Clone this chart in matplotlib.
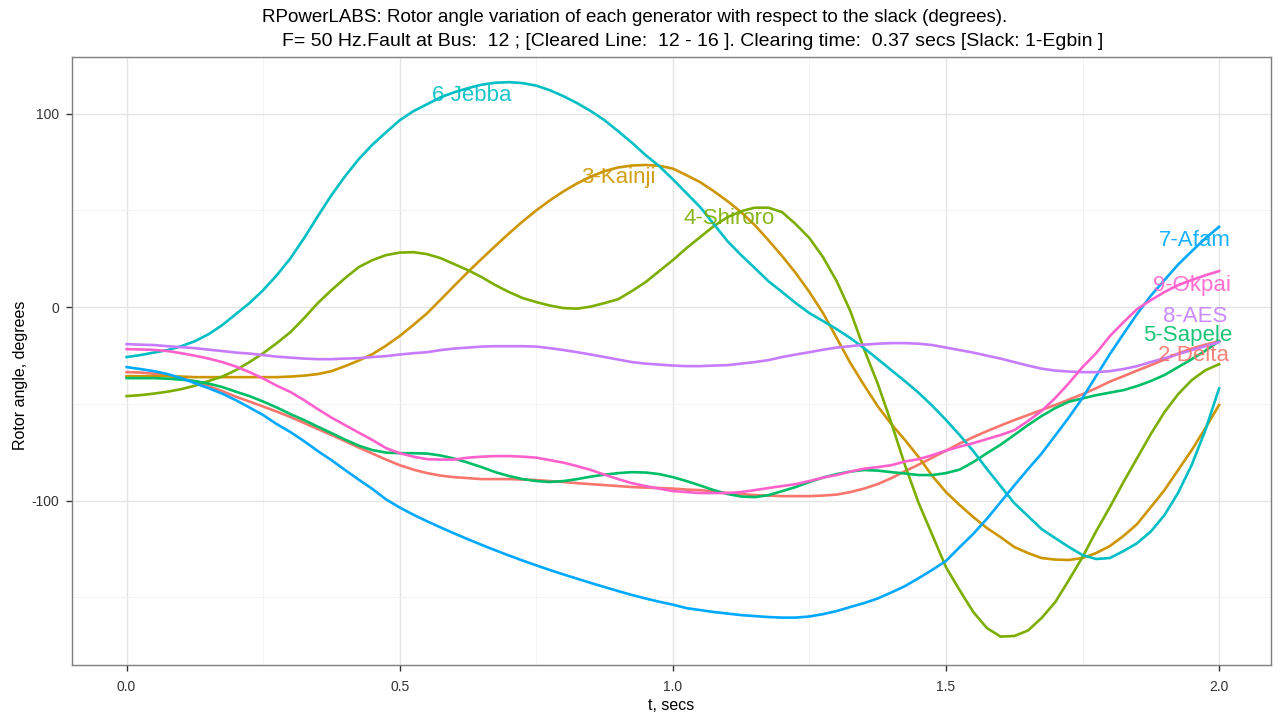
import numpy as np
import matplotlib
matplotlib.use("Agg")
import matplotlib.pyplot as plt
from matplotlib.ticker import MultipleLocator, FormatStrFormatter

plt.rcParams['font.family'] = ['Liberation Sans', 'DejaVu Sans']
plt.rcParams['axes.unicode_minus'] = False

# time axis, secs (one reading every 0.025 s)
t = np.linspace(0, 2, 81)

# rotor angles w.r.t. slack (degrees)
delta = [-33.6, -33.8, -34.4, -35.4, -36.7, -38.5, -40.8, -43.4, -46.3, -48.8,
         -51.4, -54.0, -56.8, -59.9, -63.0, -66.1, -69.3, -72.6, -75.7, -78.8,
         -81.7, -84.0, -85.8, -87.1, -87.9, -88.4, -88.9, -88.9, -88.9, -89.1,
         -89.4, -89.9, -90.4, -91.0, -91.5, -92.0, -92.5, -93.0, -93.3, -93.5,
         -93.8, -94.3, -94.6, -95.3, -96.1, -96.6, -97.2, -97.4, -97.7, -97.7,
         -97.7, -97.4, -96.9, -95.6, -93.8, -91.5, -88.4, -84.8, -81.4, -77.8,
         -74.2, -70.5, -67.2, -64.1, -61.2, -58.4, -55.8, -53.2, -50.6, -47.8,
         -45.0, -41.9, -38.5, -35.7, -32.8, -30.0, -27.1, -24.0, -21.4, -19.4,
         -17.6]
kainji = [-35.7, -35.7, -35.7, -35.7, -35.9, -36.2, -36.2, -36.2, -36.2, -36.2,
          -36.2, -36.2, -35.9, -35.4, -34.6, -33.1, -30.5, -27.6, -24.3, -19.9,
          -14.9, -9.2, -3.2, 3.9, 11.1, 18.2, 25.0, 31.6, 38.1, 44.3,
          50.0, 55.2, 59.9, 64.0, 67.5, 70.3, 72.2, 73.2, 73.5, 73.1,
          71.6, 68.2, 64.6, 59.9, 54.8, 49.1, 42.4, 34.6, 26.4, 17.6,
          7.8, -3.1, -16.0, -28.9, -40.3, -51.2, -60.5, -68.7, -77.5, -87.3,
          -95.6, -102.3, -108.5, -114.2, -118.9, -124.0, -127.1, -129.7, -130.5, -130.7,
          -129.7, -127.1, -123.5, -118.3, -112.1, -103.4, -94.6, -84.2, -73.9, -62.5,
          -50.6]
shiroro = [-46.0, -45.5, -44.7, -43.7, -42.4, -40.6, -38.2, -35.9, -32.6, -28.4,
           -23.8, -18.6, -12.9, -5.7, 2.1, 8.8, 15.0, 20.7, 24.3, 26.9,
           28.2, 28.4, 27.4, 25.3, 22.2, 19.1, 15.5, 11.4, 7.8, 4.7,
           2.6, 0.8, -0.5, -0.8, 0.3, 2.1, 4.1, 8.3, 12.9, 18.6,
           24.3, 30.5, 36.2, 41.9, 46.5, 49.6, 51.4, 51.4, 49.1, 42.9,
           35.7, 25.8, 13.4, -2.1, -21.7, -39.5, -59.9, -81.7, -101.3, -117.8,
           -134.4, -146.3, -157.6, -165.9, -170.3, -170.0, -167.2, -160.7, -152.5, -141.1,
           -129.2, -115.8, -103.4, -90.4, -78.0, -65.6, -54.3, -45.0, -37.7, -32.6,
           -29.5]
sapele = [-36.7, -36.7, -36.7, -37.0, -37.5, -38.2, -39.5, -41.3, -43.7, -46.0,
          -48.8, -51.9, -55.3, -58.4, -61.8, -65.1, -68.5, -71.6, -73.9, -75.2,
          -75.5, -75.5, -75.7, -76.7, -78.3, -80.4, -82.7, -85.3, -87.3, -88.9,
          -89.9, -90.4, -89.9, -88.9, -87.6, -86.6, -85.8, -85.3, -85.5, -86.3,
          -87.9, -89.9, -92.2, -94.6, -96.6, -97.9, -98.2, -97.2, -95.1, -93.0,
          -90.4, -88.1, -86.3, -85.0, -84.2, -84.5, -85.3, -86.0, -86.8, -86.8,
          -85.8, -84.0, -80.1, -75.5, -71.1, -66.1, -61.0, -56.3, -52.2, -48.9,
          -47.2, -45.5, -44.2, -42.9, -40.8, -38.2, -35.1, -31.0, -26.9, -22.5,
          -17.6]
jebba = [-25.8, -24.8, -23.5, -22.2, -20.2, -17.6, -14.0, -9.3, -3.6, 2.1,
         8.8, 16.5, 25.3, 35.7, 47.0, 57.9, 67.7, 76.5, 84.0, 90.4,
         96.6, 101.3, 104.9, 108.5, 111.1, 113.2, 115.0, 116.0, 116.3, 115.8,
         114.5, 112.1, 109.0, 105.4, 101.3, 96.6, 90.9, 85.0, 78.6, 72.9,
         66.1, 58.9, 51.7, 42.9, 34.1, 26.9, 20.2, 13.4, 7.8, 2.1,
         -3.1, -7.2, -11.4, -16.0, -21.2, -26.8, -32.6, -38.3, -44.3, -51.0,
         -58.3, -66.1, -74.4, -83.7, -92.5, -101.3, -108.0, -114.7, -119.4, -124.0,
         -128.2, -130.2, -129.7, -126.1, -122.0, -116.0, -107.5, -96.0, -81.5, -63.5,
         -42.0]
afam = [-31.0, -32.0, -33.1, -34.6, -36.7, -39.3, -41.9, -44.7, -48.1, -51.9,
        -55.8, -60.5, -64.6, -69.3, -74.4, -79.1, -84.2, -89.2, -94.0, -99.4,
        -103.6, -107.3, -110.7, -113.9, -117.0, -120.0, -122.9, -125.7, -128.4, -131.0,
        -133.5, -135.9, -138.2, -140.4, -142.6, -144.7, -146.8, -148.8, -150.6, -152.3,
        -153.8, -155.6, -156.6, -157.6, -158.4, -159.2, -159.7, -160.2, -160.5, -160.5,
        -159.9, -158.7, -157.1, -155.0, -153.0, -150.6, -147.5, -144.2, -140.1, -135.8,
        -131.2, -124.1, -117.2, -109.4, -100.8, -92.2, -83.8, -75.7, -66.4, -57.0,
        -46.9, -35.6, -24.3, -13.8, -3.5, 5.9, 14.0, 22.0, 28.9, 35.6,
        41.5]
aes = [-19.1, -19.4, -19.6, -20.2, -20.7, -21.2, -22.0, -22.7, -23.5, -24.0,
       -24.8, -25.6, -26.1, -26.6, -26.9, -26.9, -26.6, -26.4, -25.8, -25.3,
       -24.5, -23.8, -23.3, -22.2, -21.4, -20.9, -20.4, -20.2, -20.2, -20.2,
       -20.4, -21.2, -22.2, -23.3, -24.5, -25.8, -27.1, -28.4, -29.2, -29.7,
       -30.2, -30.5, -30.5, -30.2, -30.0, -29.2, -28.4, -27.4, -25.8, -24.5,
       -23.3, -22.0, -20.9, -20.2, -19.4, -18.9, -18.6, -18.6, -18.9, -19.6,
       -20.9, -22.2, -23.5, -25.1, -26.6, -28.4, -30.2, -31.8, -32.8, -33.3,
       -33.6, -33.6, -33.1, -32.0, -30.5, -28.4, -26.4, -24.3, -22.2, -20.2,
       -18.1]
okpai = [-21.7, -21.9, -22.1, -22.7, -23.8, -25.1, -26.6, -28.4, -30.7, -33.6,
         -36.9, -40.6, -43.9, -48.1, -52.7, -57.1, -61.0, -64.9, -68.7, -72.9,
         -75.5, -77.3, -78.6, -78.8, -78.8, -77.8, -77.3, -77.0, -77.0, -77.3,
         -77.8, -79.1, -80.4, -82.2, -84.2, -86.6, -88.9, -91.0, -92.5, -93.8,
         -95.1, -95.6, -96.1, -96.1, -96.1, -95.6, -94.6, -93.5, -92.5, -91.5,
         -89.9, -88.1, -86.8, -85.0, -83.5, -82.7, -81.7, -79.8, -78.6, -76.5,
         -74.2, -72.1, -70.3, -68.2, -66.1, -63.6, -58.9, -53.7, -47.0, -39.3,
         -31.0, -23.8, -15.0, -7.8, -1.0, 3.6, 7.8, 11.4, 14.0, 16.5,
         18.6]

names = ["2-Delta", "3-Kainji", "4-Shiroro", "5-Sapele",
         "6-Jebba", "7-Afam", "8-AES", "9-Okpai"]
series = [delta, kainji, shiroro, sapele, jebba, afam, aes, okpai]
colors = ["#F8766D", "#CD9600", "#7CAE00", "#00BE67",
          "#00BFC4", "#00A9FF", "#C77CFF", "#FF61CC"]

# where each name label sits (t, degrees)
label_t = [1.954, 0.901, 1.103, 1.943, 0.632, 1.956, 1.956, 1.95]
label_y = [-24.8, 67.2, 46.0, -14.5, 109.6, 34.6, -4.6, 11.4]

title1 = "RPowerLABS: Rotor angle variation of each generator with respect to the slack (degrees)."
title2 = "F= 50 Hz.Fault at Bus:  12 ; [Cleared Line:  12 - 16 ]. Clearing time:  0.37 secs [Slack: 1-Egbin ]"

fig = plt.figure(figsize=(12.8, 7.17), dpi=100)
ax = fig.add_axes([0.05625, 0.0725, 0.9367, 0.848])

for name, vals, col in zip(names, series, colors):
    ax.plot(t, vals, color=col, linewidth=1.9, solid_joinstyle='round')

for name, lx, ly, col in zip(names, label_t, label_y, colors):
    ax.text(lx, ly, name, color=col, fontsize=16, ha='center', va='center', alpha=0.9)

ax.set_xlim(-0.1, 2.095)
ax.set_ylim(-185, 129.3)
ax.xaxis.set_major_locator(MultipleLocator(0.5))
ax.xaxis.set_minor_locator(MultipleLocator(0.25))
ax.yaxis.set_major_locator(MultipleLocator(100))
ax.yaxis.set_minor_locator(MultipleLocator(50))
ax.xaxis.set_major_formatter(FormatStrFormatter('%.1f'))

ax.grid(which='major', color='#E5E5E5', linewidth=1.0)
ax.grid(which='minor', color='#F2F2F2', linewidth=0.6)
ax.set_axisbelow(True)
for sp in ax.spines.values():
    sp.set_color('#7F7F7F')
    sp.set_linewidth(1.0)
ax.tick_params(which='major', length=4, width=1, color='#333333',
               labelsize=10, labelcolor='#333333', pad=5)
ax.tick_params(axis='x', which='major', pad=7)
ax.tick_params(which='minor', length=0)

ax.set_xlabel("t, secs", fontsize=11.5, labelpad=3)
ax.set_ylabel("Rotor angle, degrees", fontsize=11.5)
ax.yaxis.set_label_coords(-0.037, 0.477)

fig.text(262 / 1280, 1 - 18 / 717, title1, fontsize=13.5, ha='left', va='center')
fig.text(282 / 1280, 1 - 41 / 717, title2, fontsize=14, ha='left', va='center')

fig.savefig("out.png", dpi=100)
